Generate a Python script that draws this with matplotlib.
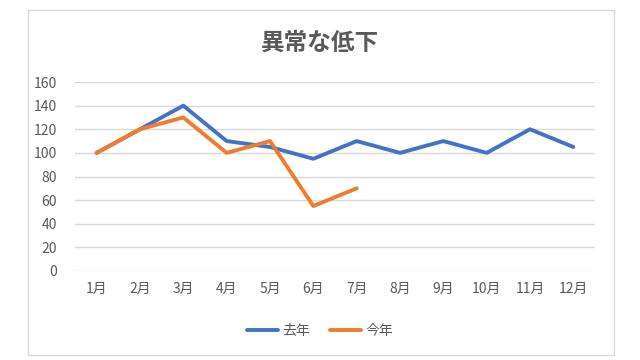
import matplotlib.pyplot as plt
from matplotlib.patches import Rectangle

plt.rcParams['font.family'] = ['Noto Sans CJK JP', 'DejaVu Sans']

months = ['1月', '2月', '3月', '4月', '5月', '6月', '7月', '8月', '9月', '10月', '11月', '12月']
last_year = [100, 120, 140, 110, 105, 95, 110, 100, 110, 100, 120, 105]
this_year = [100, 120, 130, 100, 110, 55, 70]
title = '異常な低下'

fig = plt.figure(figsize=(6.4, 3.6), dpi=100)
fig.patches.append(Rectangle((28/640, 5/360), 586/640, 345/360, transform=fig.transFigure,
                             fill=False, edgecolor='#d9d9d9', linewidth=1))

ax = fig.add_axes([75/640, 89/360, 520/640, 189/360])
x = list(range(len(months)))
ax.plot(x, last_year, color='#4472c4', linewidth=2.8, label='去年', solid_capstyle='round')
ax.plot(x[:len(this_year)], this_year, color='#ed7d31', linewidth=2.8, label='今年', solid_capstyle='round')

ax.set_xlim(-0.5, 11.5)
ax.set_ylim(0, 160)
ax.set_yticks(range(0, 161, 20))
ax.set_xticks(x)
ax.set_xticklabels(months)
ax.grid(axis='y', color='#d9d9d9', linewidth=1)
ax.set_axisbelow(True)
for s in ax.spines.values():
    s.set_visible(False)
ax.tick_params(length=0, colors='#595959', labelsize=10)
ax.tick_params(axis='y', pad=13)
ax.tick_params(axis='x', pad=8)

fig.text(0.5, 317/360, title, ha='center', va='center', fontsize=17,
         fontweight='bold', color='#595959')

fig.legend(loc='center', bbox_to_anchor=(0.5, 29/360), ncol=2, frameon=False,
           fontsize=10, labelcolor='#595959', handlelength=2.2, columnspacing=1.5, handletextpad=0.3)

fig.savefig('out.png', dpi=100)
